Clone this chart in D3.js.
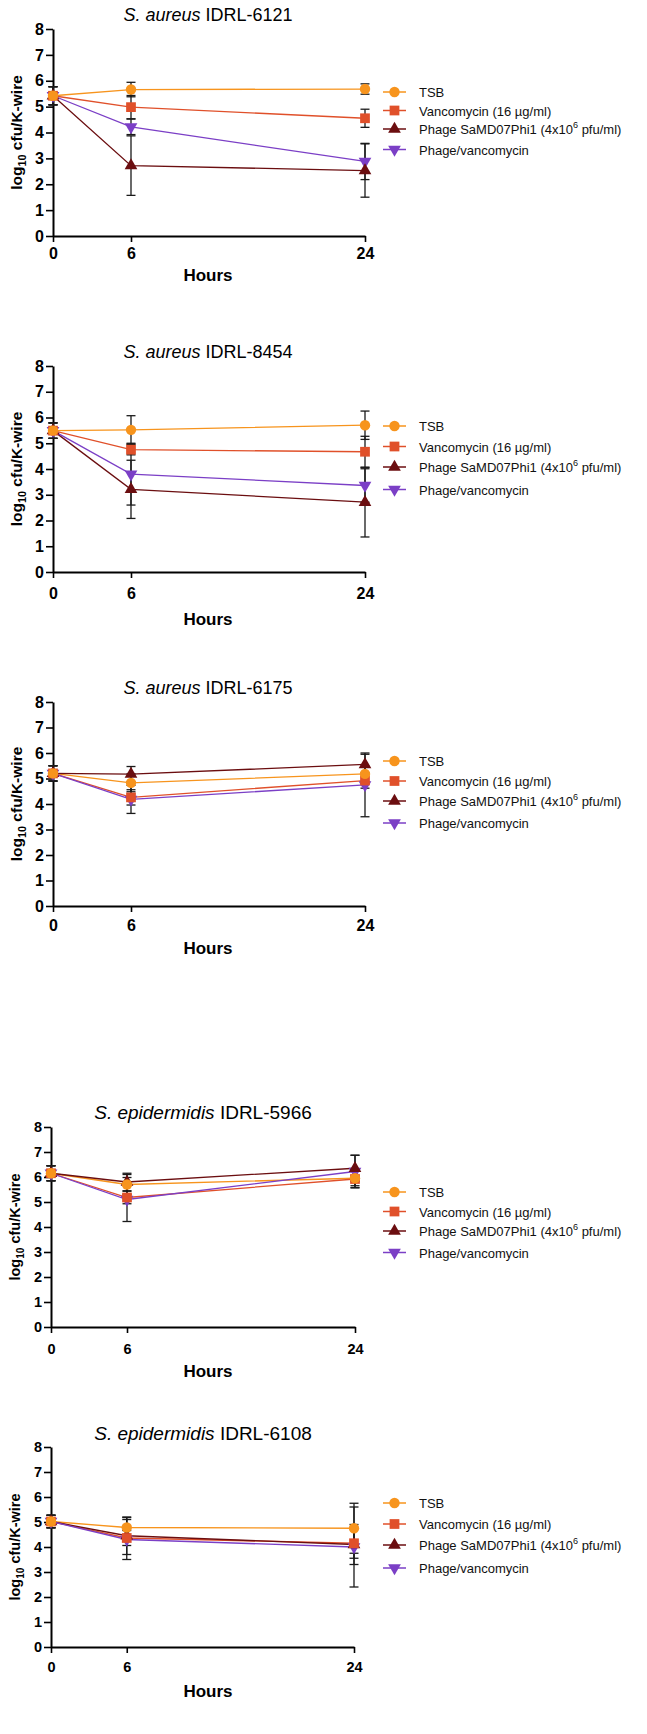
<!DOCTYPE html>
<html>
<head>
<meta charset="utf-8">
<script src="https://cdn.jsdelivr.net/npm/d3@7"></script>
<style>
  body { margin: 0; background: #fff; }
  svg { display: block; font-family: "Liberation Sans", Arial, sans-serif; }
  .axis path, .axis line { stroke: #000; }
  .axis path { stroke-width: 2; }
  .axis line { stroke-width: 1.6; }
</style>
</head>
<body>
<div id="chart"></div>
<script>
// time points (hours)
const hours = [0, 6, 24];
const yTicks = [0, 1, 2, 3, 4, 5, 6, 7, 8];

const seriesNames = ["TSB", "Vancomycin (16 µg/ml)", "Phage SaMD07Phi1", "Phage/vancomycin"];
const seriesColors = ["#F7941D", "#E0502A", "#6B0E10", "#7B3FC6"];

// panel titles
const species = ["S. aureus", "S. aureus", "S. aureus", "S. epidermidis", "S. epidermidis"];
const strains = ["IDRL-6121", "IDRL-8454", "IDRL-6175", "IDRL-5966", "IDRL-6108"];

// means per series (TSB, vanc, phage, phage/vanc) at 0, 6, 24 h
const mean6121 = [[5.42, 5.66, 5.68], [5.42, 4.98, 4.55], [5.42, 2.72, 2.53], [5.42, 4.22, 2.88]];
const err6121 = [[0.35, 0.28, 0.2], [0.35, 0.45, 0.35], [0.35, 1.15, 1.03], [0.35, 0.3, 0.7]];

const mean8454 = [[5.49, 5.52, 5.7], [5.49, 4.75, 4.67], [5.49, 3.21, 2.71], [5.49, 3.8, 3.36]];
const err8454 = [[0.3, 0.55, 0.55], [0.3, 0.2, 0.6], [0.3, 1.13, 1.35], [0.3, 1.2, 0.65]];

const mean6175 = [[5.2, 4.83, 5.18], [5.2, 4.26, 4.92], [5.2, 5.17, 5.55], [5.2, 4.18, 4.75]];
const err6175 = [[0.3, 0.35, 0.3], [0.3, 0.3, 0.3], [0.3, 0.3, 0.4], [0.3, 0.55, 1.25]];

const mean5966 = [[6.15, 5.7, 5.95], [6.15, 5.18, 5.92], [6.15, 5.8, 6.35], [6.15, 5.1, 6.22]];
const err5966 = [[0.3, 0.4, 0.3], [0.3, 0.25, 0.35], [0.3, 0.35, 0.52], [0.3, 0.88, 0.65]];

const mean6108 = [[5.02, 4.78, 4.75], [5.02, 4.36, 4.15], [5.02, 4.45, 4.1], [5.02, 4.3, 4.0]];
const err6108 = [[0.25, 0.4, 1.0], [0.25, 0.3, 0.6], [0.25, 0.75, 0.8], [0.25, 0.8, 1.6]];

const means = [mean6121, mean8454, mean6175, mean5966, mean6108];
const errs = [err6121, err8454, err6175, err5966, err6108];

// layout of each panel on the page
const layout = [
  { x0: 53, x1: 365, yTop: 29, yBot: 236, title: 21, labels: 253, hours: 281, legend: 92, tick: 16, tsize: 18, step: 18.5 },
  { x0: 53, x1: 365, yTop: 366, yBot: 572, title: 358, labels: 593, hours: 625, legend: 426, tick: 16, tsize: 18, step: 20.5 },
  { x0: 53, x1: 365, yTop: 702, yBot: 906, title: 694, labels: 925, hours: 954, legend: 761, tick: 16, tsize: 18, step: 20 },
  { x0: 51, x1: 355, yTop: 1127, yBot: 1327, title: 1119, labels: 1349, hours: 1377, legend: 1192, tick: 14.5, tsize: 19, step: 19.5 },
  { x0: 51, x1: 354, yTop: 1447, yBot: 1647, title: 1440, labels: 1667, hours: 1697, legend: 1503, tick: 14.5, tsize: 19, step: 21 }
];

const svg = d3.select("#chart")
  .append("svg")
  .attr("width", 647)
  .attr("height", 1734);

svg.append("rect").attr("width", 647).attr("height", 1734).attr("fill", "#fff");

const symbols = [
  d3.symbol().type(d3.symbolCircle).size(85),
  d3.symbol().type(d3.symbolSquare).size(95),
  d3.symbol().type(d3.symbolTriangle).size(70),
  d3.symbol().type(d3.symbolTriangle).size(70)
];

const drawMarker = (g, i, x, y) => {
  g.append("path")
    .attr("d", symbols[i]())
    .attr("fill", seriesColors[i])
    .attr("transform", `translate(${x},${y})` + (i === 3 ? " rotate(180)" : ""));
};

const drawPanel = (p) => {
  const L = layout[p];
  const g = svg.append("g");

  const x = d3.scaleLinear().domain([0, 24]).range([L.x0, L.x1]);
  const y = d3.scaleLinear().domain([0, 8]).range([L.yBot, L.yTop]);

  // title
  const title = g.append("text")
    .attr("x", p < 3 ? 208 : 203)
    .attr("y", L.title)
    .attr("text-anchor", "middle")
    .attr("font-size", L.tsize);
  title.append("tspan").attr("font-style", "italic").text(species[p]);
  title.append("tspan").text(" " + strains[p]);

  // axes
  const yAxis = g.append("g")
    .attr("class", "axis")
    .attr("transform", `translate(${L.x0},0)`)
    .call(d3.axisLeft(y).tickValues(yTicks).tickSize(7).tickSizeOuter(0).tickPadding(2));
  yAxis.selectAll("text")
    .attr("font-size", L.tick)
    .attr("font-weight", "bold")
    .attr("fill", "#000")
    .attr("font-family", "Liberation Sans, Arial, sans-serif");

  const xAxis = g.append("g")
    .attr("class", "axis")
    .attr("transform", `translate(0,${L.yBot})`)
    .call(d3.axisBottom(x).tickValues(hours).tickSize(6).tickSizeOuter(0).tickPadding(4));
  xAxis.selectAll("text")
    .attr("font-size", L.tick)
    .attr("font-weight", "bold")
    .attr("fill", "#000")
    .attr("font-family", "Liberation Sans, Arial, sans-serif")
    .attr("y", L.labels - L.yBot - 5);

  g.append("text")
    .attr("x", 208)
    .attr("y", L.hours)
    .attr("text-anchor", "middle")
    .attr("font-size", 17)
    .attr("font-weight", "bold")
    .text("Hours");

  const ylab = g.append("text")
    .attr("transform", `translate(${p < 3 ? 22 : 20},${(L.yTop + L.yBot) / 2}) rotate(-90)`)
    .attr("text-anchor", "middle")
    .attr("font-size", p < 3 ? 15.5 : 14.5)
    .attr("font-weight", "bold");
  ylab.append("tspan").text("log");
  ylab.append("tspan").attr("font-size", "70%").attr("dy", 4).text("10");
  ylab.append("tspan").attr("dy", -4).text(" cfu/K-wire");

  const line = d3.line()
    .x((d, i) => x(hours[i]))
    .y((d) => y(d));

  // lines
  means[p].forEach((m, s) => {
    g.append("path")
      .datum(m)
      .attr("fill", "none")
      .attr("stroke", seriesColors[s])
      .attr("stroke-width", 1.3)
      .attr("d", line);
  });

  // error bars
  means[p].forEach((m, s) => {
    m.forEach((v, i) => {
      const e = errs[p][s][i];
      const cx = x(hours[i]);
      const eb = g.append("g").attr("stroke", "#1a1a1a").attr("stroke-width", 1.3);
      eb.append("line").attr("x1", cx).attr("x2", cx).attr("y1", y(v - e)).attr("y2", y(v + e));
      [v - e, v + e].forEach((t) => {
        eb.append("line").attr("x1", cx - 4.5).attr("x2", cx + 4.5).attr("y1", y(t)).attr("y2", y(t));
      });
    });
  });

  // markers (TSB on top)
  [3, 2, 1, 0].forEach((s) => {
    means[p][s].forEach((v, i) => drawMarker(g, s, x(hours[i]), y(v)));
  });

  // legend
  const lg = g.append("g").attr("transform", `translate(0,${L.legend})`);
  seriesNames.forEach((name, s) => {
    const row = lg.append("g").attr("transform", `translate(0,${s * L.step + (s === 3 ? 2 : 0)})`);
    row.append("line")
      .attr("x1", 383).attr("x2", 406)
      .attr("stroke", seriesColors[s])
      .attr("stroke-width", 1.5);
    drawMarker(row, s, 394.5, 0);
    const t = row.append("text")
      .attr("x", 419)
      .attr("y", 5)
      .attr("font-size", 13)
      .attr("fill", "#111")
      .text(name);
    if (s === 2) {
      t.append("tspan").text(" (4x10");
      t.append("tspan").attr("font-size", "70%").attr("dy", -6).text("6");
      t.append("tspan").attr("dy", 6).text(" pfu/ml)");
    }
  });
};

layout.forEach((d, p) => drawPanel(p));
</script>
</body>
</html>
